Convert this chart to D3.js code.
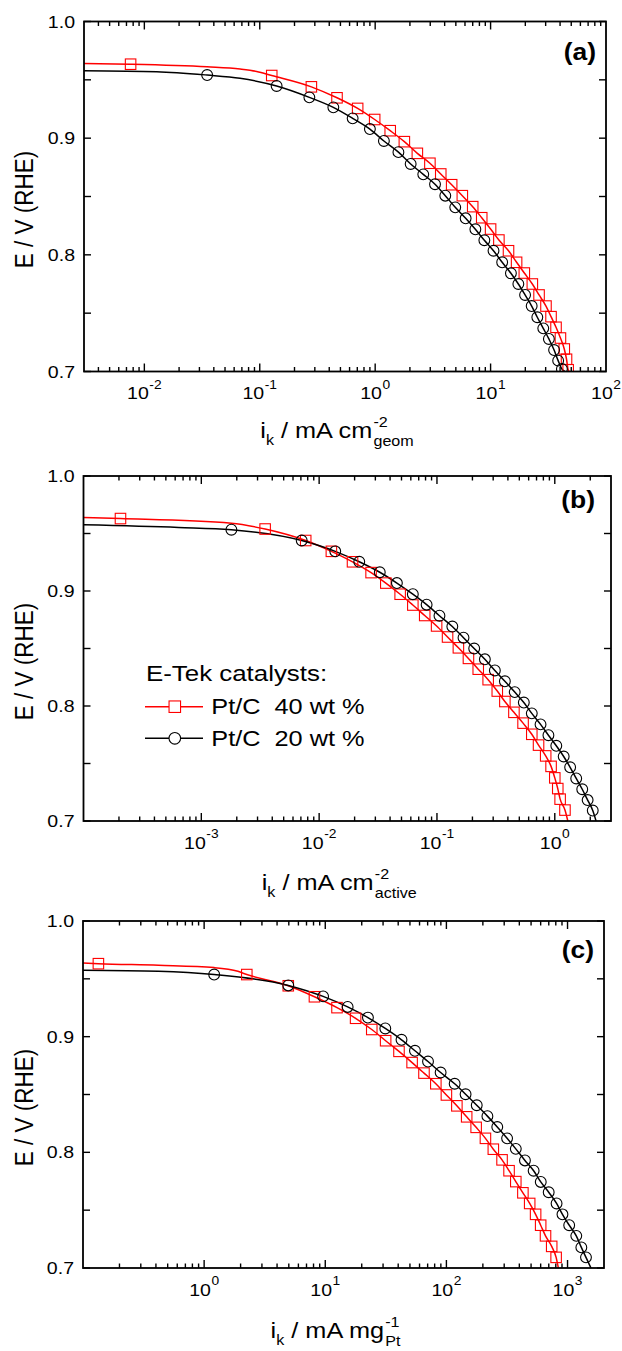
<!DOCTYPE html>
<html>
<head>
<meta charset="utf-8">
<script src="https://cdn.jsdelivr.net/npm/d3@7"></script>
<style>
  body { margin: 0; background: #fff; }
  svg text { font-family: "Liberation Sans", Arial, sans-serif; fill: #000; white-space: pre; }
</style>
</head>
<body>
<svg id="chart" width="622" height="1351"></svg>
<script>
// ---- panel (a): geometric current density, mA cm-2 ----
const aRedI = [0.0076, 0.127, 0.28, 0.467, 0.705, 0.99, 1.35, 1.79, 2.32, 2.98, 3.70, 4.60, 5.69, 7.00, 8.38, 10.0, 11.8, 14.3, 16.8, 19.6, 23.0, 26.3, 30.2, 33.4, 36.9, 40.3, 43.5, 45.5, 47.0];
const aRedE = [0.9634, 0.9537, 0.944, 0.9346, 0.9255, 0.916, 0.9064, 0.897, 0.887, 0.8785, 0.8693, 0.8601, 0.8507, 0.8413, 0.8318, 0.8221, 0.8127, 0.8035, 0.7936, 0.7844, 0.775, 0.7656, 0.7561, 0.747, 0.7379, 0.7287, 0.7193, 0.7105, 0.7015];
const aRedLineI = [0.003, 0.035, 0.0675, 0.094, 48];
const aRedLineE = [0.9640, 0.9612, 0.9593, 0.9572, 0.700];
const aBlkI = [0.035, 0.140, 0.269, 0.434, 0.638, 0.90, 1.19, 1.59, 2.03, 2.61, 3.30, 4.05, 4.94, 6.08, 7.38, 8.83, 10.6, 12.6, 15.0, 17.4, 19.9, 22.7, 25.4, 28.6, 32.0, 35.5, 38.5, 41.5];
const aBlkE = [0.9541, 0.9447, 0.935, 0.9264, 0.917, 0.9078, 0.8976, 0.888, 0.8779, 0.869, 0.8605, 0.8507, 0.8407, 0.8313, 0.8219, 0.8125, 0.8035, 0.7936, 0.7842, 0.775, 0.7656, 0.7561, 0.7465, 0.737, 0.7279, 0.7184, 0.7093, 0.7021];
const aBlkLineI = [0.003, 0.0128, 0.0675, 44];
const aBlkLineE = [0.9578, 0.9570, 0.9513, 0.700];

// ---- panel (b): specific activity, mA cm-2 active ----
const bRedI = [2.06e-4, 3.48e-3, 7.69e-3, 0.0127, 0.0192, 0.0276, 0.0368, 0.0487, 0.0624, 0.0787, 0.0993, 0.123, 0.152, 0.185, 0.224, 0.272, 0.325, 0.377, 0.45, 0.538, 0.638, 0.728, 0.837, 0.93, 1.0, 1.06, 1.11, 1.22];
const bRedE = [0.963, 0.9539, 0.9439, 0.9345, 0.9254, 0.916, 0.9069, 0.8972, 0.8878, 0.8787, 0.8696, 0.86, 0.8506, 0.8414, 0.832, 0.8229, 0.813, 0.8039, 0.7945, 0.7851, 0.7754, 0.766, 0.7566, 0.7475, 0.7375, 0.7282, 0.719, 0.7095];
const bRedLineI = [1e-4, 1.8e-3, 1.29];
const bRedLineE = [0.9639, 0.959, 0.700];
const bBlkI = [1.80e-3, 7.11e-3, 0.0137, 0.0219, 0.0327, 0.0457, 0.0624, 0.0817, 0.105, 0.135, 0.168, 0.207, 0.255, 0.31, 0.377, 0.457, 0.546, 0.638, 0.757, 0.883, 1.03, 1.19, 1.35, 1.52, 1.71, 1.90, 2.10];
const bBlkE = [0.9533, 0.9439, 0.9345, 0.9254, 0.9163, 0.9069, 0.8972, 0.8881, 0.8785, 0.8691, 0.8594, 0.85, 0.8406, 0.8309, 0.8215, 0.8121, 0.803, 0.7936, 0.784, 0.7746, 0.7654, 0.7561, 0.7467, 0.737, 0.7276, 0.7182, 0.7091];
const bBlkLineI = [1e-4, 6.4e-4, 2.24];
const bBlkLineE = [0.9576, 0.9553, 0.700];

// ---- panel (c): mass activity, mA mg-1 Pt ----
const cRedI = [0.134, 2.25, 4.95, 8.14, 12.5, 17.8, 24.2, 31.5, 40.6, 52.1, 65.3, 81.8, 100, 122, 147, 176, 210, 244, 288, 329, 374, 428, 487, 545, 600, 658, 740, 805];
const cRedE = [0.9631, 0.9537, 0.944, 0.9345, 0.9251, 0.9159, 0.9062, 0.8965, 0.8873, 0.8776, 0.8685, 0.8593, 0.8496, 0.8402, 0.8307, 0.8216, 0.8121, 0.8027, 0.7935, 0.7841, 0.7747, 0.765, 0.7558, 0.7464, 0.737, 0.7278, 0.7187, 0.7092];
const cRedLineI = [0.1, 0.42, 1.21, 1.9, 840];
const cRedLineE = [0.9637, 0.9617, 0.9597, 0.9565, 0.700];
const cBlkI = [1.21, 4.95, 9.6, 15.3, 22.5, 31.3, 42.6, 55, 70.5, 89.6, 117, 144, 178, 218, 263, 317, 374, 445, 525, 601, 699, 812, 908, 1032, 1181, 1300, 1420];
const cBlkE = [0.9537, 0.9443, 0.9348, 0.9257, 0.9165, 0.9071, 0.8973, 0.8878, 0.8785, 0.869, 0.8593, 0.8502, 0.8407, 0.8313, 0.8219, 0.8121, 0.803, 0.793, 0.7841, 0.7744, 0.7655, 0.7558, 0.7464, 0.737, 0.7278, 0.7178, 0.7092];
const cBlkLineI = [0.1, 0.42, 1560];
const cBlkLineE = [0.9574, 0.9565, 0.700];

// labelled decades on each x axis
const aExps = [-2, -1, 0, 1, 2];
const bExps = [-3, -2, -1, 0];
const cExps = [0, 1, 2, 3];

const yDomain = [0.7, 1.0];
const yLabels = [0.7, 0.8, 0.9, 1.0];
const yTickVals = [0.7, 0.75, 0.8, 0.85, 0.9, 0.95, 1.0];
const legendTitle = 'E-Tek catalysts:';
const seriesNames = ['Pt/C  40 wt %', 'Pt/C  20 wt %'];

const RED = '#ff0000';
const SX = 1.15; // glyphs in the figure are a bit wider than Liberation Sans

const panels = [
  { key: 'a', l: 84, r: 606, t: 21.5, b: 371.5, xDom: [0.003, 100], exps: aExps,
    red: [aRedI, aRedE, aRedLineI, aRedLineE], blk: [aBlkI, aBlkE, aBlkLineI, aBlkLineE],
    unit: ' / mA cm', sup: '-2', sub: 'geom', titleDy: 66, tagX: 596, tagY: 60, legend: false },
  { key: 'b', l: 83.5, r: 611, t: 476, b: 821, xDom: [1e-4, 3], exps: bExps,
    red: [bRedI, bRedE, bRedLineI, bRedLineE], blk: [bBlkI, bBlkE, bBlkLineI, bBlkLineE],
    unit: ' / mA cm', sup: '-2', sub: 'active', titleDy: 69, tagX: 595, tagY: 508, legend: true },
  { key: 'c', l: 83, r: 604, t: 921, b: 1268, xDom: [0.1, 2000], exps: cExps,
    red: [cRedI, cRedE, cRedLineI, cRedLineE], blk: [cBlkI, cBlkE, cBlkLineI, cBlkLineE],
    unit: ' / mA mg', sup: '-1', sub: 'Pt', titleDy: 70, tagX: 594, tagY: 958, legend: false }
];

const svg = d3.select('#chart');
const defs = svg.append('defs');

function stretched(parent, x, y) {
  return parent.append('g').attr('transform', `translate(${x},${y}) scale(${SX},1)`);
}

function drawPanel(p) {
  const x = d3.scaleLog().domain(p.xDom).range([p.l, p.r]);
  const y = d3.scaleLinear().domain(yDomain).range([p.b, p.t]);
  const g = svg.append('g').attr('class', 'panel-' + p.key);

  defs.append('clipPath').attr('id', 'clip-' + p.key)
    .append('rect').attr('x', p.l).attr('y', p.t).attr('width', p.r - p.l).attr('height', p.b - p.t);

  // curves
  const plot = g.append('g').attr('clip-path', `url(#clip-${p.key})`);
  const line = d3.line().x(d => x(d[0])).y(d => y(d[1])).curve(d3.curveMonotoneX);
  const pts = (s) => {
    const all = s[0].map((v, i) => [v, s[1][i]]).concat(s[2].map((v, i) => [v, s[3][i]]));
    return all.sort((m, n) => m[0] - n[0]);
  };
  plot.append('path').attr('d', line(pts(p.red))).attr('fill', 'none').attr('stroke', RED).attr('stroke-width', 1.5);
  plot.append('path').attr('d', line(pts(p.blk))).attr('fill', 'none').attr('stroke', '#000').attr('stroke-width', 1.5);

  const sq = 10.5;
  plot.selectAll('rect.m').data(p.red[0]).enter().append('rect')
    .attr('class', 'm')
    .attr('x', d => x(d) - sq / 2).attr('y', (d, i) => y(p.red[1][i]) - sq / 2)
    .attr('width', sq).attr('height', sq)
    .attr('fill', 'none').attr('stroke', RED).attr('stroke-width', 1.1);
  plot.selectAll('circle.m').data(p.blk[0]).enter().append('circle')
    .attr('class', 'm')
    .attr('cx', d => x(d)).attr('cy', (d, i) => y(p.blk[1][i])).attr('r', 5.4)
    .attr('fill', 'none').attr('stroke', '#000').attr('stroke-width', 1.1);

  // ticks
  const ticks = g.append('g').attr('stroke', '#000').attr('stroke-width', 1.4);
  x.ticks().forEach(v => {
    const lg = Math.log10(v);
    const major = Math.abs(lg - Math.round(lg)) < 1e-9;
    const len = major ? 8 : 4.5;
    const px = x(v);
    if (px < p.l + 0.5 || px > p.r - 0.5) return;
    ticks.append('line').attr('x1', px).attr('x2', px).attr('y1', p.t).attr('y2', p.t + len);
    ticks.append('line').attr('x1', px).attr('x2', px).attr('y1', p.b).attr('y2', p.b - len);
  });
  yTickVals.forEach(v => {
    const py = y(v);
    ticks.append('line').attr('x1', p.l).attr('x2', p.l + 7).attr('y1', py).attr('y2', py);
    ticks.append('line').attr('x1', p.r).attr('x2', p.r - 7).attr('y1', py).attr('y2', py);
  });

  g.append('rect').attr('x', p.l).attr('y', p.t).attr('width', p.r - p.l).attr('height', p.b - p.t)
    .attr('fill', 'none').attr('stroke', '#000').attr('stroke-width', 1.8);

  // x tick labels: 10^n
  p.exps.forEach(e => {
    const lab = stretched(g, x(Math.pow(10, e)), p.b + 27.5);
    const base = lab.append('text').style('font-size', '17px').text('10');
    const w0 = base.node().getComputedTextLength();
    const ex = lab.append('text').attr('y', -10.5).style('font-size', '12px').text(String(e));
    const w = w0 + 0.5 + ex.node().getComputedTextLength();
    base.attr('x', -w / 2);
    ex.attr('x', w0 + 0.5 - w / 2);
  });

  // y tick labels
  yLabels.forEach(v => {
    stretched(g, p.l - 9, y(v) + 6).append('text').attr('text-anchor', 'end')
      .style('font-size', '17px').text(v.toFixed(1));
  });

  // y title
  g.append('g').attr('transform', `translate(33,${(p.t + p.b) / 2 + 13}) scale(${SX},1) rotate(-90)`)
    .append('text').attr('text-anchor', 'middle').style('font-size', '22.5px').text('E / V (RHE)');

  // x title: i_k / mA cm^-2_geom
  const tg = stretched(g, (p.l + p.r) / 2 - 8, p.b + p.titleDy);
  let cx = 0;
  const put = (txt, size, dy, adv) => {
    const t = tg.append('text').attr('x', cx).attr('y', dy).style('font-size', size + 'px').text(txt);
    const w = t.node().getComputedTextLength();
    if (adv) cx += w;
    return w;
  };
  put('i', 22, 0, true);
  put('k', 14, 7, true);
  put(p.unit, 22, 0, true);
  cx += 1;
  const wSup = put(p.sup, 14, -11, false);
  const wSub = put(p.sub, 14, 8, false);
  const total = cx + Math.max(wSup, wSub);
  tg.selectAll('text').attr('x', function () { return +d3.select(this).attr('x') - total / 2; });

  // panel tag
  stretched(g, p.tagX, p.tagY).append('text').attr('text-anchor', 'end')
    .style('font-size', '23px').style('font-weight', 'bold').text(`(${p.key})`);

  if (p.legend) drawLegend(g);
}

function drawLegend(g) {
  const x0 = 145, x1 = 203, xm = 174.8, tx = 211.3;
  const rows = [706.7, 738.3];
  stretched(g, 146, 681).append('text').style('font-size', '22.5px').text(legendTitle);
  // red square series
  g.append('line').attr('x1', x0).attr('x2', x1).attr('y1', rows[0]).attr('y2', rows[0])
    .attr('stroke', RED).attr('stroke-width', 1.5);
  g.append('rect').attr('x', xm - 5.75).attr('y', rows[0] - 5.75).attr('width', 11.5).attr('height', 11.5)
    .attr('fill', '#fff').attr('stroke', RED).attr('stroke-width', 1.1);
  // black circle series
  g.append('line').attr('x1', x0).attr('x2', x1).attr('y1', rows[1]).attr('y2', rows[1])
    .attr('stroke', '#000').attr('stroke-width', 1.5);
  g.append('circle').attr('cx', xm).attr('cy', rows[1]).attr('r', 5.8)
    .attr('fill', '#fff').attr('stroke', '#000').attr('stroke-width', 1.1);
  seriesNames.forEach((s, i) => {
    stretched(g, tx, rows[i] + 7.5).append('text').style('font-size', '22px').text(s);
  });
}

panels.forEach(drawPanel);
</script>
</body>
</html>
